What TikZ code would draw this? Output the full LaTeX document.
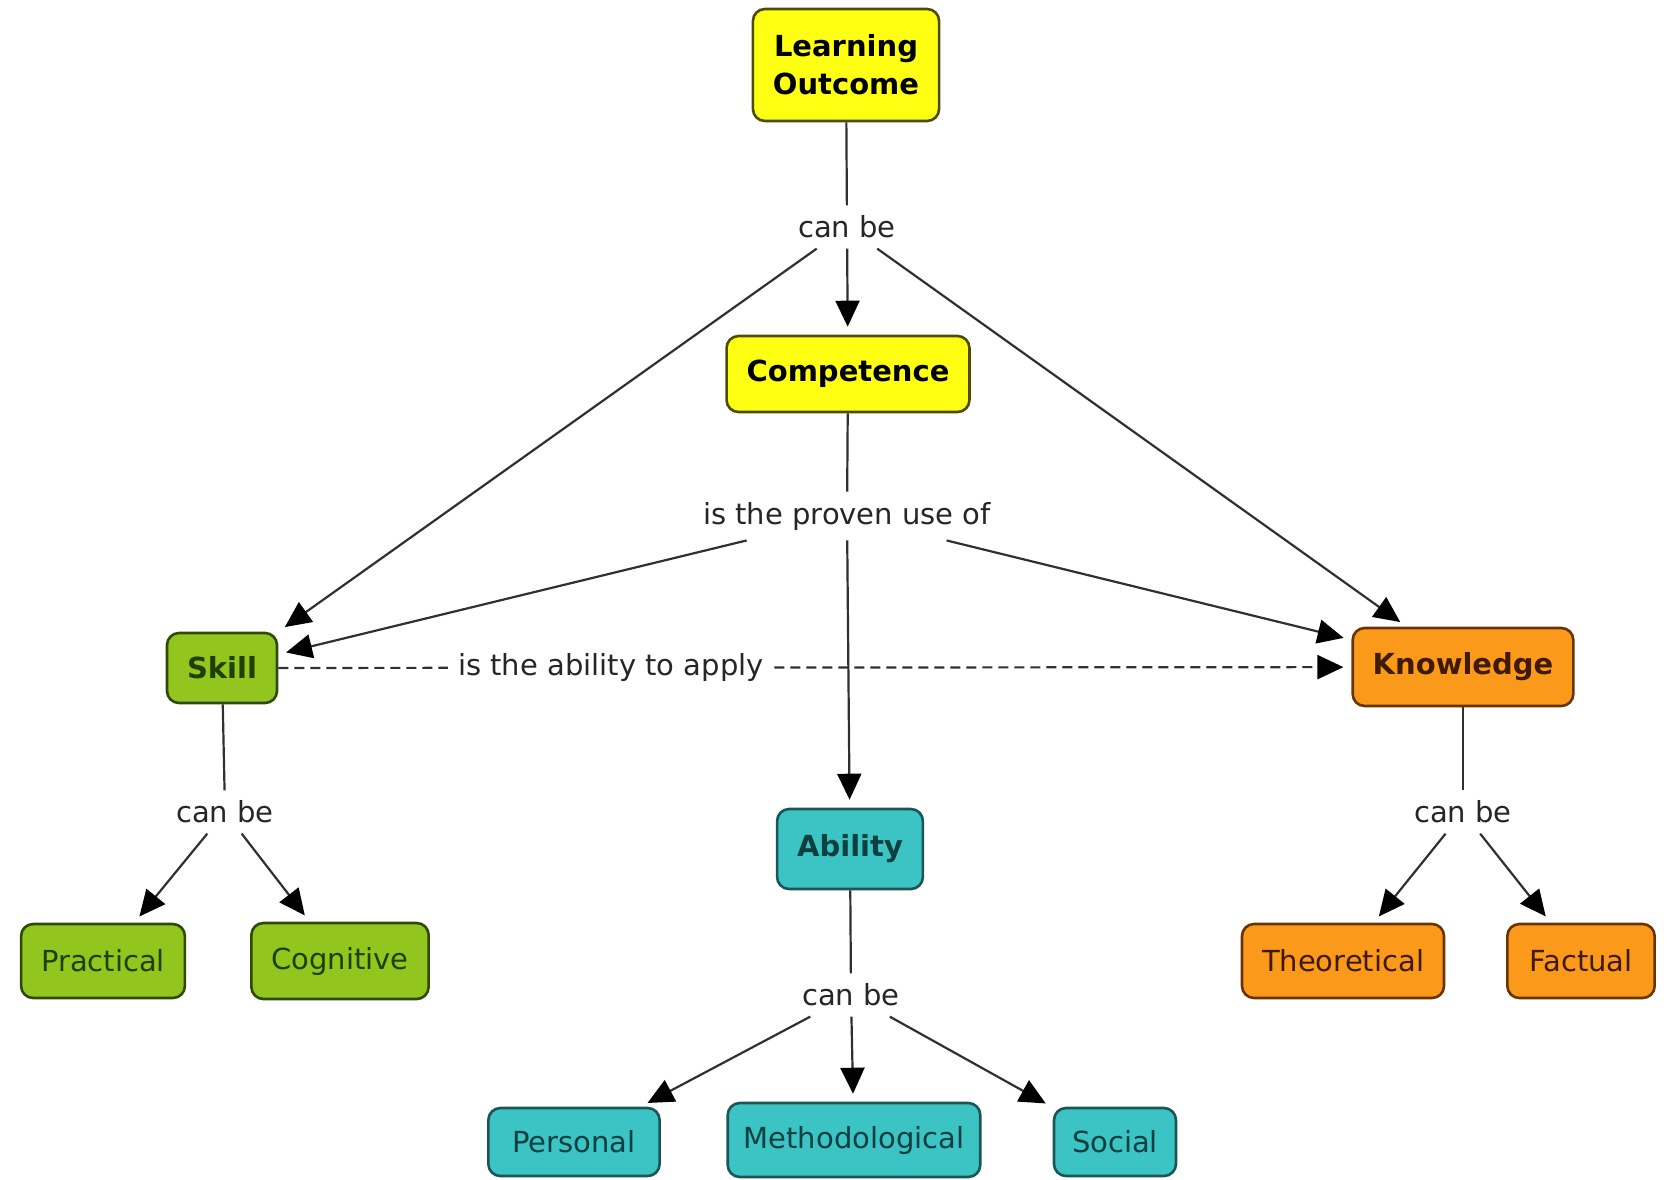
\documentclass[tikz,border=0pt]{standalone}
\usepackage{fontspec}
\setmainfont{DejaVu Sans}
\usetikzlibrary{arrows.meta}
\definecolor{yfill}{HTML}{FFFF14}
\definecolor{ydraw}{HTML}{4D4D00}
\definecolor{gfill}{HTML}{92C51E}
\definecolor{gdraw}{HTML}{2E4A05}
\definecolor{gtext}{HTML}{1E3F00}
\definecolor{ofill}{HTML}{FB9A1A}
\definecolor{odraw}{HTML}{6A3300}
\definecolor{otext}{HTML}{401A00}
\definecolor{tfill}{HTML}{3CC3C3}
\definecolor{tdraw}{HTML}{1B5656}
\definecolor{ttext}{HTML}{0C3F40}
\definecolor{linkgray}{HTML}{303030}
\tikzset{
  box/.style={draw, rounded corners=6pt, line width=1.3pt, inner xsep=10pt,
    minimum height=37pt, align=center, font=\fontsize{14.5}{19}\selectfont},
  ybox/.style={box, fill=yfill, draw=ydraw, font=\fontsize{14.5}{19}\selectfont\bfseries},
  gbox/.style={box, fill=gfill, draw=gdraw, text=gtext},
  obox/.style={box, fill=ofill, draw=odraw, text=otext},
  tbox/.style={box, fill=tfill, draw=tdraw, text=ttext},
  main/.style={font=\fontsize{14.5}{19}\selectfont\bfseries},
  phrase/.style={inner sep=5pt, text=black!85, font=\fontsize{14.5}{19}\selectfont},
  link/.style={draw=linkgray, line width=1.1pt},
  arr/.style={link, -{Triangle[length=13pt,width=12pt,fill=black,color=black]}, shorten >=4pt}
}
\begin{document}
\begin{tikzpicture}[x=0.5pt,y=-0.5pt]
\useasboundingbox (0,0) rectangle (1670,1179);
% concepts
\node[ybox, minimum height=56pt] (lo) at (846,65) {Learning\\Outcome};
\node[ybox, minimum height=38pt] (comp) at (848,374) {Competence};
\node[gbox, main, minimum height=35pt] (skill) at (222,668) {Skill};
\node[obox, main, minimum height=39pt] (know) at (1463,667) {Knowledge};
\node[tbox, main, minimum height=40pt] (abil) at (850,849) {Ability};
\node[gbox] (prac) at (103,961) {Practical};
\node[gbox, minimum height=38pt] (cogn) at (340,961) {Cognitive};
\node[obox] (theo) at (1343,961) {Theoretical};
\node[obox, inner xsep=11pt] (fact) at (1581,961) {Factual};
\node[tbox, minimum height=34pt, inner xsep=12pt] (pers) at (574,1142) {Personal};
\node[tbox, inner xsep=8pt] (meth) at (854,1140) {Methodological};
\node[tbox, minimum height=34pt, inner xsep=9pt] (soc) at (1115,1142) {Social};
% linking phrases
\node[phrase] (cb1) at (847,227) {can be};
\node[phrase] (prov) at (847,516) {is the proven use of};
\node[phrase] (cb2) at (225,812) {can be};
\node[phrase] (cb3) at (1463,812) {can be};
\node[phrase] (cb4) at (851,995) {can be};
% links
\draw[link] (lo) -- (cb1);
\draw[arr] (cb1) -- (comp);
\draw[arr] (cb1) -- (skill.north east);
\draw[arr] (cb1) -- (know);
\draw[link] (comp) -- (prov);
\draw[arr] (prov) -- (skill);
\draw[arr] (prov) -- (know);
\draw[arr] (prov) -- (abil);
\draw[arr, dash pattern=on 5pt off 3pt] (skill) -- node[phrase, fill=white, pos=0.31] (appl) {is the ability to apply} (know);
\draw[link] (skill) -- (cb2);
\draw[arr] (cb2) -- (prac);
\draw[arr] (cb2) -- (cogn);
\draw[link] (know) -- (cb3);
\draw[arr] (cb3) -- (theo);
\draw[arr] (cb3) -- (fact);
\draw[link] (abil) -- (cb4);
\draw[arr] (cb4) -- (pers);
\draw[arr] (cb4) -- (meth);
\draw[arr] (cb4) -- (soc);
\end{tikzpicture}
\end{document}
